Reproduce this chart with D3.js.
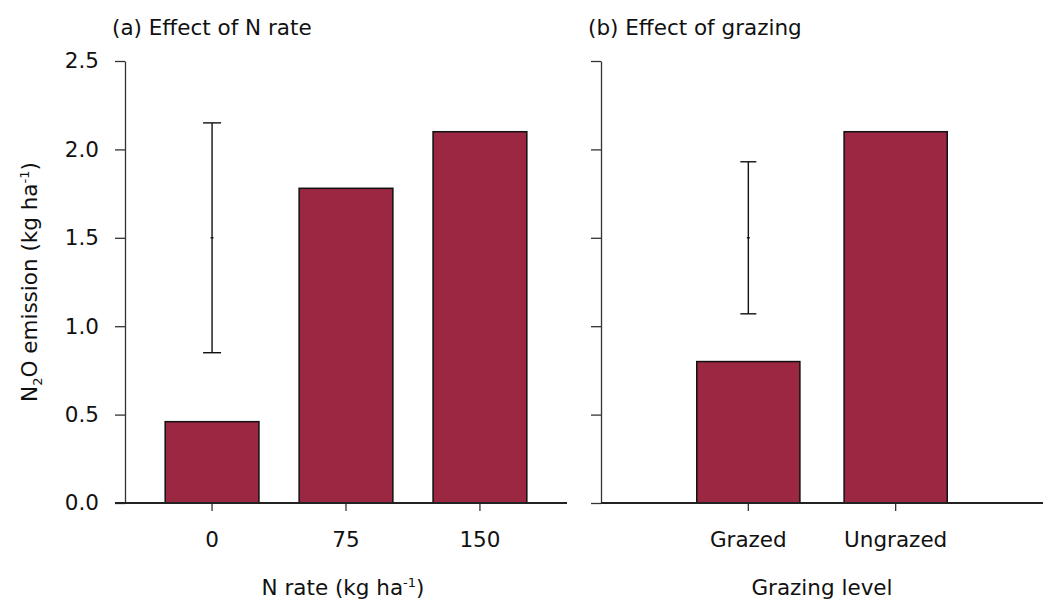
<!DOCTYPE html>
<html>
<head>
<meta charset="utf-8">
<script src="https://cdn.jsdelivr.net/npm/d3@7"></script>
<style>
  body { margin: 0; background: #fff; }
  text { font-family: "DejaVu Sans", sans-serif; fill: #111; }
</style>
</head>
<body>
<script>
// data
var nRates = ["0", "75", "150"];
var nEmission = [0.46, 1.78, 2.10];
var grazing = ["Grazed", "Ungrazed"];
var grazEmission = [0.80, 2.10];
// error bars (LSD style): [category, low, high]
var nErr = ["0", 0.85, 2.15];
var grazErr = ["Grazed", 1.07, 1.93];
var yTicks = [0, 0.5, 1.0, 1.5, 2.0, 2.5];

var w = 1050, h = 602;
var plotTop = 61, plotBottom = 503;
var fontSize = 21.5;
var barColor = "#9b2743";

var svg = d3.select("body").append("svg")
    .attr("width", w)
    .attr("height", h);

var yScale = d3.scaleLinear()
    .domain([0, 2.5])
    .range([plotBottom, plotTop]);

function drawPanel(opts) {
    var g = svg.append("g");

    var xScale = d3.scaleBand()
        .domain(opts.cats)
        .range([opts.x0, opts.x1])
        .paddingInner(0.3)
        .paddingOuter(opts.outer);

    // y axis
    var yAxis = d3.axisLeft(yScale)
        .tickValues(yTicks)
        .tickSize(10)
        .tickSizeOuter(0)
        .tickFormat(opts.yLabels ? d3.format(".1f") : "");
    var ya = g.append("g")
        .attr("transform", "translate(" + opts.x0 + ",0)")
        .call(yAxis);
    ya.select(".domain").attr("stroke", "#333").attr("stroke-width", 1.3);
    ya.selectAll(".tick line").attr("stroke", "#333").attr("stroke-width", 1.3);
    ya.selectAll(".tick text")
        .attr("x", -26)
        .style("font-size", fontSize + "px")
        .style("font-family", "DejaVu Sans, sans-serif")
        .attr("fill", "#111");

    // bars
    g.selectAll("rect.bar")
        .data(opts.values)
        .enter()
        .append("rect")
        .attr("class", "bar")
        .attr("x", function (d, i) { return xScale(opts.cats[i]); })
        .attr("y", function (d) { return yScale(d); })
        .attr("width", xScale.bandwidth())
        .attr("height", function (d) { return yScale(0) - yScale(d); })
        .attr("fill", barColor)
        .attr("stroke", "#111")
        .attr("stroke-width", 1.5);

    // x axis
    var xAxis = d3.axisBottom(xScale)
        .tickSize(7)
        .tickSizeOuter(0);
    var xa = g.append("g")
        .attr("transform", "translate(0," + (plotBottom + 1) + ")")
        .call(xAxis);
    xa.select(".domain").remove();
    xa.selectAll(".tick line").attr("stroke", "#333").attr("stroke-width", 1.3);
    xa.selectAll(".tick text")
        .attr("y", 28)
        .style("font-size", fontSize + "px")
        .style("font-family", "DejaVu Sans, sans-serif")
        .attr("fill", "#111");
    g.append("line")
        .attr("x1", opts.x0 - (opts.yLabels ? 10 : 0))
        .attr("x2", opts.x1)
        .attr("y1", plotBottom)
        .attr("y2", plotBottom)
        .attr("stroke", "#222")
        .attr("stroke-width", 2.2);

    // error bar
    var ex = xScale(opts.err[0]) + xScale.bandwidth() / 2;
    var cap = opts.cap;
    var eg = g.append("g").attr("stroke", "#111").attr("stroke-width", 1.4);
    eg.append("line")
        .attr("x1", ex).attr("x2", ex)
        .attr("y1", yScale(opts.err[1])).attr("y2", yScale(opts.err[2]));
    [opts.err[1], opts.err[2]].forEach(function (v) {
        eg.append("line")
            .attr("x1", ex - cap).attr("x2", ex + cap)
            .attr("y1", yScale(v)).attr("y2", yScale(v));
    });
    var mid = (opts.err[1] + opts.err[2]) / 2;
    eg.append("line")
        .attr("x1", ex - 1.5).attr("x2", ex + 1.5)
        .attr("y1", yScale(mid)).attr("y2", yScale(mid));

    // title
    g.append("text")
        .attr("x", opts.titleX)
        .attr("y", 35)
        .style("font-size", fontSize + "px")
        .text(opts.title);

    // x title
    var xt = g.append("text")
        .attr("x", (opts.x0 + opts.x1) / 2 + opts.xTitleShift)
        .attr("y", 595)
        .attr("text-anchor", "middle")
        .style("font-size", fontSize + "px");
    opts.xTitle(xt);
}

drawPanel({
    cats: nRates, values: nEmission, err: nErr,
    x0: 125, x1: 567, outer: 0.3, cap: 9, yLabels: true,
    title: "(a) Effect of N rate", titleX: 112, xTitleShift: -3,
    xTitle: function (t) {
        t.append("tspan").text("N rate (kg ha");
        t.append("tspan").attr("dy", -8).style("font-size", "13px").text("-1");
        t.append("tspan").attr("dy", 8).text(")");
    }
});

drawPanel({
    cats: grazing, values: grazEmission, err: grazErr,
    x0: 601, x1: 1043, outer: 0.65, cap: 8, yLabels: false,
    title: "(b) Effect of grazing", titleX: 588, xTitleShift: 0,
    xTitle: function (t) { t.text("Grazing level"); }
});

// y axis title
var yt = svg.append("text")
    .attr("transform", "translate(37," + ((plotTop + plotBottom) / 2) + ") rotate(-90)")
    .attr("text-anchor", "middle")
    .style("font-size", fontSize + "px");
yt.append("tspan").text("N");
yt.append("tspan").attr("dy", 5).style("font-size", "13px").text("2");
yt.append("tspan").attr("dy", -5).text("O emission (kg ha");
yt.append("tspan").attr("dy", -8).style("font-size", "13px").text("-1");
yt.append("tspan").attr("dy", 8).text(")");
</script>
</body>
</html>
